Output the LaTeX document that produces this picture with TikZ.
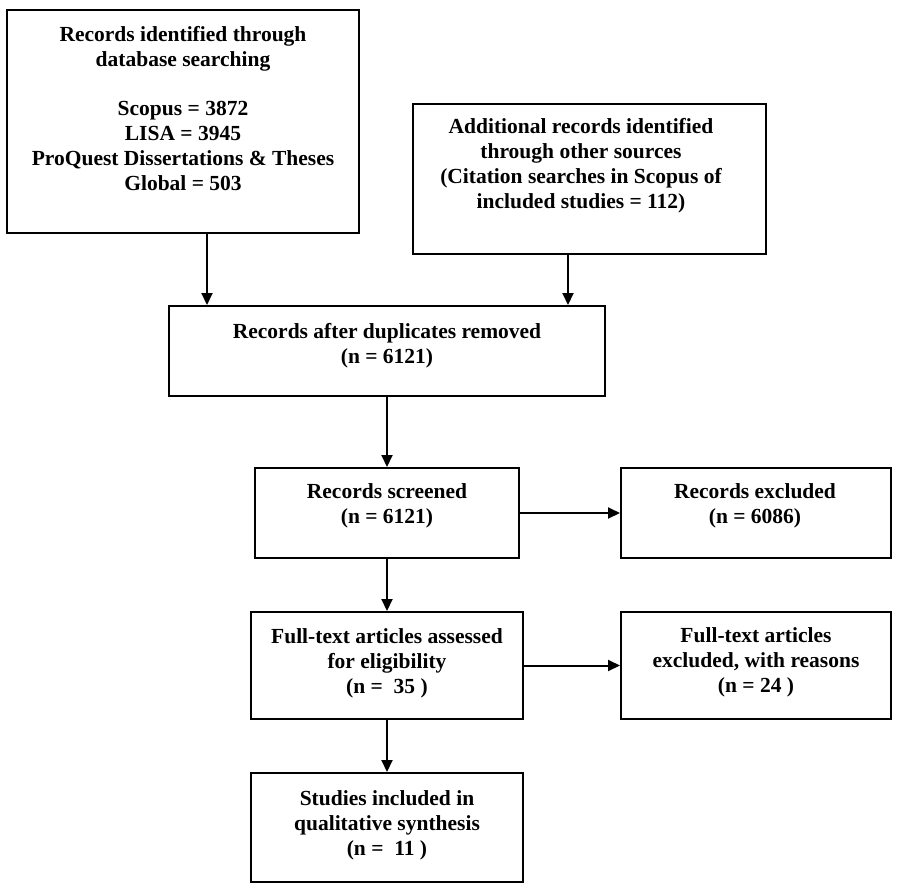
\documentclass[tikz,border=0pt]{standalone}
\usepackage{fontspec}
\setmainfont{Liberation Serif}
\usetikzlibrary{arrows.meta}
\begin{document}
\begin{tikzpicture}[x=1pt,y=-1pt,
  box/.style={draw, line width=2pt, rectangle, inner sep=0pt},
  txt/.style={anchor=north, align=center, inner sep=0pt, font=\fontsize{21.5}{25}\selectfont\bfseries},
  arr/.style={line width=2pt, -{Triangle[length=12pt,width=11pt]}}]
\useasboundingbox (0,0) rectangle (898,892);
% boxes
\node[box, minimum width=352pt, minimum height=223pt] (b1) at (183,121.5) {};
\node[box, minimum width=353pt, minimum height=150pt] (b2) at (589.5,179) {};
\node[box, minimum width=436pt, minimum height=90pt] (b3) at (387,351) {};
\node[box, minimum width=264pt, minimum height=90pt] (b4) at (387,513) {};
\node[box, minimum width=270pt, minimum height=90pt] (b5) at (756,513) {};
\node[box, minimum width=272pt, minimum height=107pt] (b6) at (387,665.5) {};
\node[box, minimum width=270pt, minimum height=107pt] (b7) at (756,665.5) {};
\node[box, minimum width=272pt, minimum height=109pt] (b8) at (387,827.5) {};
% texts
\node[txt] (t1) at (183,24) {\strut Records identified through\\database searching\\[24pt]Scopus = 3872\\LISA = 3945\\ProQuest Dissertations \& Theses\\Global = 503};
\node[txt] (t2) at (581,115.5) {\strut Additional records identified\\through other sources\\(Citation searches in Scopus of\\included studies = 112)};
\node[txt] (t3) at (387,320.5) {\strut Records after duplicates removed\\(n = 6121)};
\node[txt] (t4) at (387,480.5) {\strut Records screened\\(n = 6121)};
\node[txt] (t5) at (755,480.5) {\strut Records excluded\\(n = 6086)};
\node[txt] (t6) at (387,625.5) {\strut Full-text articles assessed\\for eligibility\\(n = \ 35 )};
\node[txt] (t7) at (756,624.5) {\strut Full-text articles\\excluded, with reasons\\(n = 24 )};
\node[txt] (t8) at (387,787.5) {\strut Studies included in\\qualitative synthesis\\(n = \ 11 )};
% connectors
\draw[arr] ([xshift=24pt]b1.south) -- ([xshift=24pt]b1.south |- b3.north);
\draw[arr] ([xshift=-21.5pt]b2.south) -- ([xshift=-21.5pt]b2.south |- b3.north);
\draw[arr] (b3.south) -- (b4.north);
\draw[arr] (b4.east) -- (b5.west);
\draw[arr] (b4.south) -- (b6.north);
\draw[arr] (b6.east) -- (b7.west);
\draw[arr] (b6.south) -- (b8.north);
\end{tikzpicture}
\end{document}
